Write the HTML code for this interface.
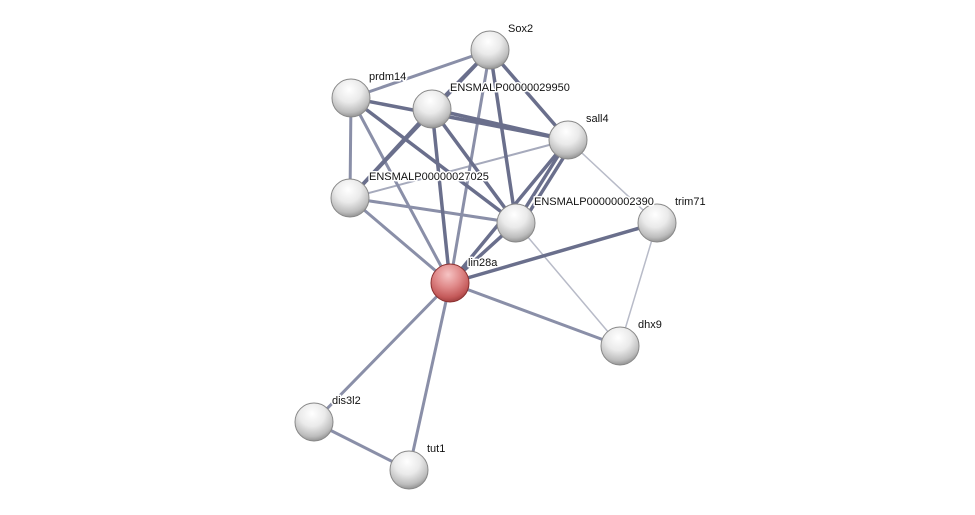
<!DOCTYPE html>
<html><head><meta charset="utf-8"><style>
html,body{margin:0;padding:0;background:#fff;width:975px;height:515px;overflow:hidden}
text{font-family:"Liberation Sans",sans-serif;font-size:11px;fill:#111;stroke:#fff;stroke-width:3px;paint-order:stroke;stroke-linejoin:round}
</style></head><body>
<svg width="975" height="515" viewBox="0 0 975 515" xmlns="http://www.w3.org/2000/svg">
<defs>
<radialGradient id="g" cx="45%" cy="28%" r="75%">
<stop offset="0" stop-color="#ffffff"/><stop offset="0.45" stop-color="#eaeaea"/><stop offset="0.8" stop-color="#bdbdbd"/><stop offset="1" stop-color="#8a8a8a"/>
</radialGradient>
<radialGradient id="r" cx="45%" cy="28%" r="75%">
<stop offset="0" stop-color="#f6c4c4"/><stop offset="0.45" stop-color="#e08a8a"/><stop offset="0.8" stop-color="#c45a5a"/><stop offset="1" stop-color="#9a3a3a"/>
</radialGradient>
</defs>
<g stroke-linecap="round">
<g stroke="#8a8fa8" stroke-width="3">
<line x1="490" y1="50" x2="351" y2="98"/>
<line x1="351" y1="98" x2="350" y2="198"/>
<line x1="568" y1="140" x2="350" y2="198" stroke="#a6aabc" stroke-width="2"/>
<line x1="350" y1="198" x2="450" y2="283"/>
<line x1="350" y1="198" x2="516" y2="223"/>
<line x1="450" y1="283" x2="620" y2="346"/>
<line x1="450" y1="283" x2="314" y2="422"/>
<line x1="450" y1="283" x2="409" y2="470"/>
<line x1="314" y1="422" x2="409" y2="470"/>
<line x1="490" y1="50" x2="450" y2="283"/>
<line x1="351" y1="98" x2="450" y2="283"/>
</g>
<g stroke="#b8bbc8" stroke-width="1.5">
<line x1="568" y1="140" x2="657" y2="223"/>
<line x1="516" y1="223" x2="620" y2="346"/>
<line x1="657" y1="223" x2="620" y2="346"/>
</g>
<g stroke="#6a6f8c" stroke-width="3.5">
<line x1="490" y1="50" x2="432" y2="109"/>
<line x1="490" y1="50" x2="568" y2="140"/>
<line x1="490" y1="50" x2="516" y2="223"/>
<line x1="490" y1="50" x2="350" y2="198"/>
<line x1="351" y1="98" x2="568" y2="140"/>
<line x1="351" y1="98" x2="516" y2="223"/>
<line x1="432" y1="109" x2="568" y2="140"/>
<line x1="432" y1="109" x2="450" y2="283"/>
<line x1="432" y1="109" x2="516" y2="223"/>
<line x1="432" y1="109" x2="350" y2="198"/>
<line x1="568" y1="140" x2="516" y2="223"/>
<line x1="572" y1="144" x2="520" y2="227"/>
<line x1="568" y1="140" x2="450" y2="283"/>
<line x1="516" y1="223" x2="450" y2="283"/>
<line x1="450" y1="283" x2="657" y2="223"/>
</g>
</g>
<g stroke="#888" stroke-width="1">
<circle cx="490" cy="50" r="19" fill="url(#g)"/>
<circle cx="351" cy="98" r="19" fill="url(#g)"/>
<circle cx="432" cy="109" r="19" fill="url(#g)"/>
<circle cx="568" cy="140" r="19" fill="url(#g)"/>
<circle cx="350" cy="198" r="19" fill="url(#g)"/>
<circle cx="516" cy="223" r="19" fill="url(#g)"/>
<circle cx="657" cy="223" r="19" fill="url(#g)"/>
<circle cx="450" cy="283" r="19" fill="url(#r)" stroke="#8a3030"/>
<circle cx="620" cy="346" r="19" fill="url(#g)"/>
<circle cx="314" cy="422" r="19" fill="url(#g)"/>
<circle cx="409" cy="470" r="19" fill="url(#g)"/>
</g>
<text x="508" y="32">Sox2</text>
<text x="369" y="80">prdm14</text>
<text x="450" y="91">ENSMALP00000029950</text>
<text x="586" y="122">sall4</text>
<text x="369" y="180">ENSMALP00000027025</text>
<text x="534" y="205">ENSMALP00000002390</text>
<text x="675" y="205">trim71</text>
<text x="468" y="266">lin28a</text>
<text x="638" y="328">dhx9</text>
<text x="332" y="404">dis3l2</text>
<text x="427" y="452">tut1</text>
</svg>
</body></html>
